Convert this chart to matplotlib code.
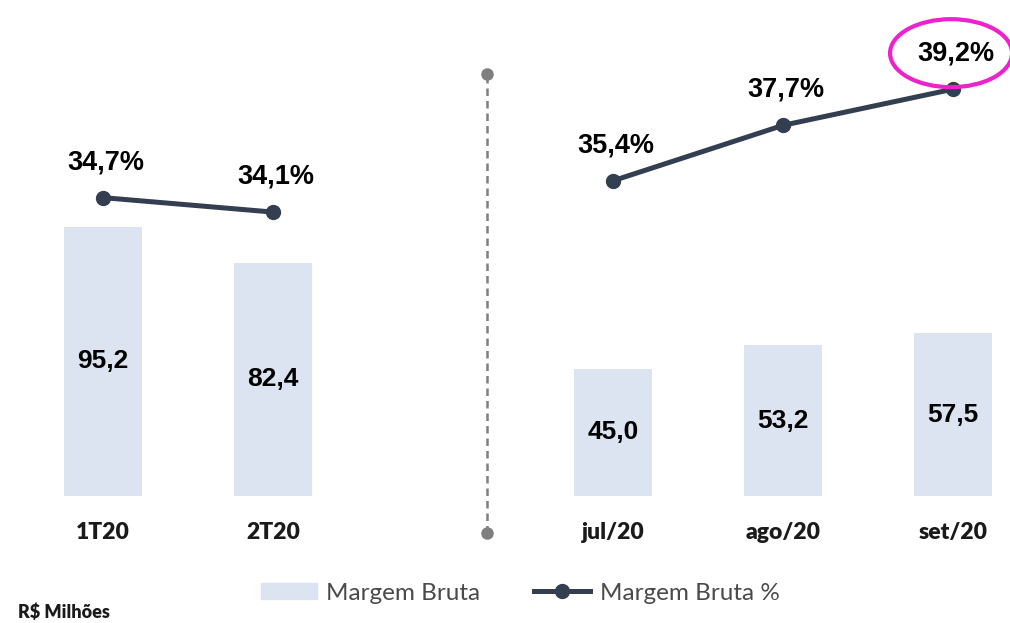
import matplotlib.pyplot as plt
from matplotlib.lines import Line2D
from matplotlib.patches import Patch, Ellipse
from matplotlib.transforms import IdentityTransform

# data
periods = ['1T20', '2T20', 'jul/20', 'ago/20', 'set/20']
gross_margin = [95.2, 82.4, 45.0, 53.2, 57.5]
gross_margin_pct = [34.7, 34.1, 35.4, 37.7, 39.2]
x_pos = [0, 1, 3, 4, 5]
split_at = 2.26

bar_color = '#dbe4f0'
line_color = '#333f50'

fig = plt.figure(figsize=(10.1, 6.23), dpi=100)
ax = fig.add_axes([0, 0, 1, 1])
ax.set_xlim(-0.606, 5.335)
ax.set_ylim(-44.9, 175.3)
ax.axis('off')

ax.bar(x_pos, gross_margin, width=0.46, color=bar_color, zorder=1)
for x, v in zip(x_pos, gross_margin):
    ax.text(x, v / 2, f'{v:.1f}'.replace('.', ','), ha='center', va='center',
            fontsize=19, fontweight='bold', family='Liberation Sans', color='black')
for x, lab in zip(x_pos, periods):
    ax.text(x, -12.8, lab, ha='center', va='center', fontsize=16.5,
            fontweight='heavy', family='Lato', color='#1a1a1a')

# divider
ax.plot([split_at, split_at], [-13, 149], ls=(0, (3, 2)), color='#7f7f7f', lw=1.8, zorder=0)
ax.plot([split_at, split_at], [-13, 149], 'o', color='#7f7f7f', ms=8, zorder=0)

ax2 = ax.twinx()
ax2.set_ylim(17.05, 42.9)
ax2.axis('off')
ax2.plot(x_pos[:2], gross_margin_pct[:2], '-o', color=line_color, lw=3.6, ms=10)
ax2.plot(x_pos[2:], gross_margin_pct[2:], '-o', color=line_color, lw=3.6, ms=10)
for x, v in zip(x_pos, gross_margin_pct):
    ax2.annotate(f'{v:.1f}%'.replace('.', ','), (x, v), xytext=(2, 25.5),
                 textcoords='offset points', ha='center', va='center',
                 fontsize=19.5, fontweight='bold', family='Liberation Sans', color='black')

# highlight ring round the last value
fig.canvas.draw()
px, py = ax2.transData.transform((x_pos[-1], gross_margin_pct[-1]))
ring = Ellipse((px - 2, py + 36), 122, 68, transform=IdentityTransform(),
               fc='none', ec='#ee22cc', lw=3, clip_on=False)
fig.add_artist(ring)

handles = [Patch(color=bar_color, label='Margem Bruta'),
           Line2D([], [], color=line_color, lw=3.6, marker='o', ms=10, label='Margem Bruta %')]
fig.legend(handles=handles, loc='center', bbox_to_anchor=(0.515, 1 - 593 / 623), ncol=2,
           frameon=False, prop={'family': 'Lato', 'size': 17.5}, labelcolor='#4a4a4a',
           handlelength=2.3, handleheight=0.6, handletextpad=0.4, columnspacing=2.2)

fig.text(18 / 1010, 1 - 612 / 623, 'R$ Milhões', fontsize=13, fontweight='heavy',
         family='Lato', color='#1a1a1a', va='center')

fig.savefig('out.png', dpi=100)
